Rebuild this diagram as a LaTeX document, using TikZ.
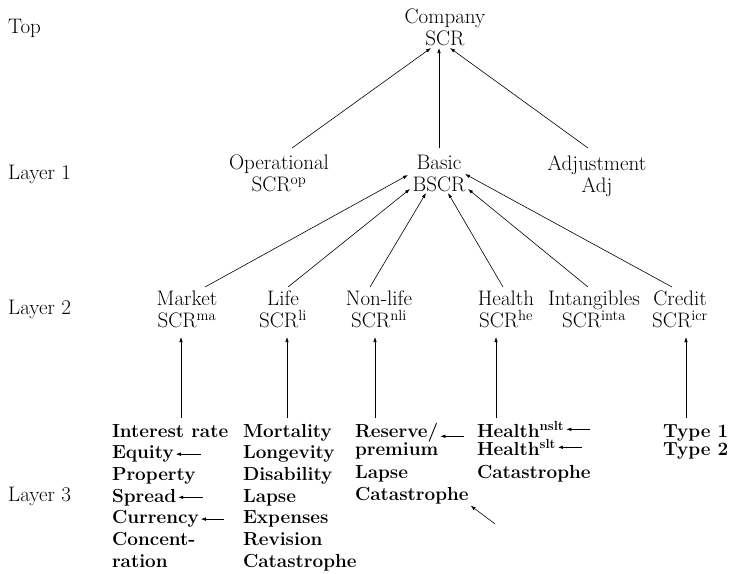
\documentclass[tikz,border=0pt]{standalone}
\usetikzlibrary{arrows.meta,calc}
\begin{document}
\begin{tikzpicture}[x=1pt,y=-1pt,
  arr/.style={-{Latex[length=5pt,width=3.5pt]},line width=0.6pt},
  up/.style={anchor=north,align=center,inner sep=0pt,font=\fontsize{21}{22}\selectfont},
  lab/.style={anchor=base west,inner sep=0pt,font=\fontsize{21}{22}\selectfont},
  lt/.style={anchor=base west,inner sep=0pt,outer sep=2pt,font=\bfseries\fontsize{18.9}{21.7}\selectfont}]
\useasboundingbox (0,0) rectangle (730,573);
% layer labels
\node[lab] (lt0) at (8,33) {Top};
\node[lab] (lt1) at (8,179) {Layer 1};
\node[lab] (lt2) at (8,314) {Layer 2};
\node[lab] (lt3) at (8,501) {Layer 3};
% top
\node[up] (co) at (445,9) {Company\\SCR};
% layer 1
\node[up] (op) at (279,155) {Operational\\SCR\textsuperscript{op}};
\node[up] (ba) at (439,155) {Basic\\BSCR};
\node[up] (ad) at (597,155) {Adjustment\\Adj};
% layer 2
\node[up] (mk) at (187,291) {Market\\SCR\textsuperscript{ma}};
\node[up] (li) at (283,291) {Life\\SCR\textsuperscript{li}};
\node[up] (nl) at (379,291) {Non-life\\SCR\textsuperscript{nli}};
\node[up] (he) at (506,291) {Health\\SCR\textsuperscript{he}};
\node[up] (in) at (594,291) {Intangibles\\SCR\textsuperscript{inta}};
\node[up] (cr) at (680,291) {Credit\\SCR\textsuperscript{icr}};
% connectors to top
\draw[arr] ($(op.north)+(13,-7)$) -- ($(co.north)+(-14,39)$);
\draw[arr] ($(ba.north)+(0,-7)$) -- ($(co.north)+(-6,39)$);
\draw[arr] ($(ad.north)+(-9,-7)$) -- ($(co.north)+(5,39)$);
% connectors to basic
\draw[arr] ($(mk.north)+(18,-4)$) -- ($(ba.north)+(-31,20)$);
\draw[arr] ($(li.north)+(5,-4)$) -- ($(ba.north)+(-29,34)$);
\draw[arr] ($(nl.north)+(-9,-4)$) -- ($(ba.north)+(-13,38)$);
\draw[arr] ($(he.north)+(-3,-4)$) -- ($(ba.north)+(9,38)$);
\draw[arr] ($(in.north)+(-6,-4)$) -- ($(ba.north)+(29,34)$);
\draw[arr] ($(cr.north)+(-8,-4)$) -- ($(ba.north)+(26,19)$);
% layer 3 market
\node[lt] (m1) at (110,437) {Interest rate};
\node[lt] (m2) at (110,458.7) {Equity};
\node[lt] (m3) at (110,480.4) {Property};
\node[lt] (m4) at (110,502.1) {Spread};
\node[lt] (m5) at (110,523.8) {Currency};
\node[lt] (m6) at (110,545.5) {Concent-};
\node[lt] (m7) at (110,567.2) {ration};
% life
\node[lt] (l1) at (241,437) {Mortality};
\node[lt] (l2) at (241,458.7) {Longevity};
\node[lt] (l3) at (241,480.4) {Disability};
\node[lt] (l4) at (241,502.1) {Lapse};
\node[lt] (l5) at (241,523.8) {Expenses};
\node[lt] (l6) at (241,545.5) {Revision};
\node[lt] (l7) at (241,567.2) {Catastrophe};
% non-life
\node[lt] (n1) at (353,437) {Reserve/};
\node[lt] (n2) at (353,455) {premium};
\node[lt] (n3) at (353,478) {Lapse};
\node[lt] (n4) at (353,500) {Catastrophe};
% health
\node[lt] (h1) at (475,437) {Health\textsuperscript{nslt}};
\node[lt] (h2) at (475,455) {Health\textsuperscript{slt}};
\node[lt] (h3) at (475,478) {Catastrophe};
% credit
\node[lt] (c1) at (661,437) {Type 1};
\node[lt] (c2) at (661,455) {Type 2};
% vertical connectors
\coordinate (vm) at (181,418);
\coordinate (vl) at (287,418);
\coordinate (vn) at (375,418);
\coordinate (vh) at (496,418);
\coordinate (vc) at (686,418);
\draw[arr] (vm) -- ($(vm |- mk.north)+(0,46)$);
\draw[arr] (vl) -- ($(vl |- li.north)+(0,46)$);
\draw[arr] (vn) -- ($(vn |- nl.north)+(0,46)$);
\draw[arr] (vh) -- ($(vh |- he.north)+(0,46)$);
\draw[arr] (vc) -- ($(vc |- cr.north)+(0,46)$);
% short arrows
\coordinate (tm2) at ($(m2.east)+(25,0)$);
\coordinate (tm4) at ($(m4.east)+(25,0)$);
\coordinate (tm5) at ($(m5.east)+(23,0)$);
\coordinate (tn1) at ($(n1.east)+(24,4)$);
\coordinate (th1) at ($(h1.east)+(24,0)$);
\coordinate (th2) at ($(h2.east)+(24,0)$);
\coordinate (tn4) at ($(n4.south east)+(24,18)$);
\draw[arr] (tm2) -- (m2.east);
\draw[arr] (tm4) -- (m4.east);
\draw[arr] (tm5) -- (m5.east);
\draw[arr] (tn1) -- ($(n1.east)+(0,4)$);
\draw[arr] (th1) -- (h1.east);
\draw[arr] (th2) -- (h2.east);
\draw[arr] (tn4) -- (n4.south east);
\end{tikzpicture}
\end{document}
